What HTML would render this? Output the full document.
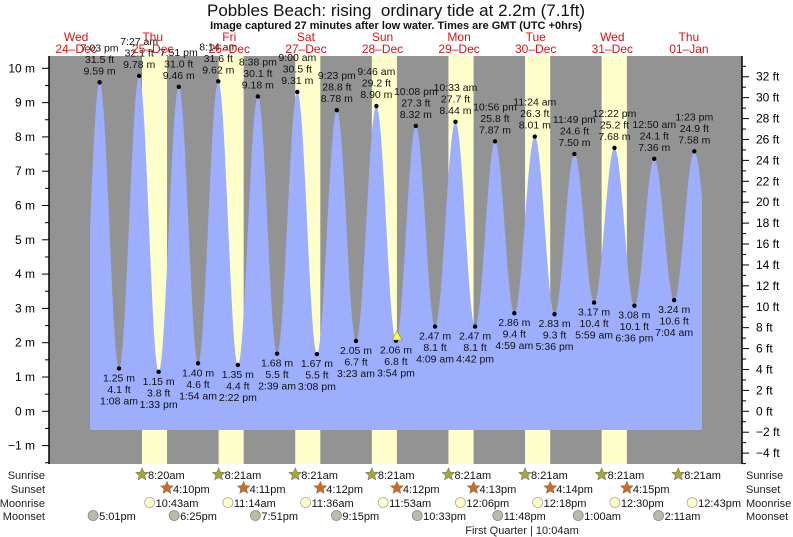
<!DOCTYPE html>
<html><head><meta charset="utf-8"><style>
body{margin:0;background:#fff;}
svg{display:block;font-family:"Liberation Sans",sans-serif;}
</style></head><body>
<svg id="s" width="793" height="537" xmlns="http://www.w3.org/2000/svg"></svg>
<script>
var s=document.getElementById('s'),o='';
var X0=115.4,PD=76.6;
function X(d,h,m){return X0+PD*(d+(h+m/60)/24);}
function Y(v){return 411.3-34.3*v;}
function T(str){var p=str.match(/(\d+):(\d+)\s*(am|pm)/);var h=+p[1]%12;if(p[3]=='pm')h+=12;return [h,+p[2]];}
o+='<rect x="49" y="56" width="693" height="408" fill="#939393"/>';
var bands=[[0,'8:20am','4:10pm'],[1,'8:21am','4:11pm'],[2,'8:21am','4:12pm'],[3,'8:21am','4:12pm'],[4,'8:21am','4:13pm'],[5,'8:21am','4:14pm'],[6,'8:21am','4:15pm']];
bands.forEach(function(b){var a=T(b[1]),c=T(b[2]);var x1=X(b[0],a[0],a[1]),x2=X(b[0],c[0],c[1]);o+='<rect x="'+x1+'" y="56" width="'+(x2-x1)+'" height="408" fill="#ffffcc"/>';});
var ev=[[-1,'7:03pm',9.59,'31.5'],[0,'1:08am',1.25,'4.1'],[0,'7:27am',9.78,'32.1'],[0,'1:33pm',1.15,'3.8'],[0,'7:51pm',9.46,'31.0'],[1,'1:54am',1.40,'4.6'],[1,'8:14am',9.62,'31.6'],[1,'2:22pm',1.35,'4.4'],[1,'8:38pm',9.18,'30.1'],[2,'2:39am',1.68,'5.5'],[2,'9:00am',9.31,'30.5'],[2,'3:08pm',1.67,'5.5'],[2,'9:23pm',8.78,'28.8'],[3,'3:23am',2.05,'6.7'],[3,'9:46am',8.90,'29.2'],[3,'3:54pm',2.06,'6.8'],[3,'10:08pm',8.32,'27.3'],[4,'4:09am',2.47,'8.1'],[4,'10:33am',8.44,'27.7'],[4,'4:42pm',2.47,'8.1'],[4,'10:56pm',7.87,'25.8'],[5,'4:59am',2.86,'9.4'],[5,'11:24am',8.01,'26.3'],[5,'5:36pm',2.83,'9.3'],[5,'11:49pm',7.50,'24.6'],[6,'5:59am',3.17,'10.4'],[6,'12:22pm',7.68,'25.2'],[6,'6:36pm',3.08,'10.1'],[7,'12:50am',7.36,'24.1'],[7,'7:04am',3.24,'10.6'],[7,'1:23pm',7.58,'24.9']];
var pts=ev.map(function(e){var t=T(e[1]);return [X(e[0],t[0],t[1]),e[2]];});
pts.unshift([80.5,1.2]);
pts.push([pts[pts.length-1][0]+(pts[pts.length-1][0]-pts[pts.length-2][0]),3.3]);
function H(x){for(var i=0;i<pts.length-1;i++){if(x>=pts[i][0]&&x<=pts[i+1][0]){var f=(x-pts[i][0])/(pts[i+1][0]-pts[i][0]);return pts[i][1]+(pts[i+1][1]-pts[i][1])*(1-Math.cos(Math.PI*f))/2;}}return 0;}
var d='M90,430';for(var x=90;x<=702;x+=0.5){d+=' L'+x+','+Y(H(x)).toFixed(2);}d+=' L702,430 Z';
o+='<path d="'+d+'" fill="#9daefc"/>';
ev.forEach(function(e,i){var p=pts[i+1],x=p[0],y=Y(p[1]);o+='<circle cx="'+x+'" cy="'+y+'" r="2.2" fill="#000"/>';var tm=e[1].replace(/(am|pm)/,' $1');
var hi=e[2]>5;var ls=hi?[tm,e[3]+' ft',e[2].toFixed(2)+' m']:[e[2].toFixed(2)+' m',e[3]+' ft',tm];
ls.forEach(function(l,k){var yy=hi?y-29+k*11.5-2:y+13+k*11.5;o+='<text x="'+x+'" y="'+yy+'" font-size="10.5" text-anchor="middle" fill="#111">'+l+'</text>';});});
o+='<polygon points="397,331 392,340 402,340" fill="#ffff33" stroke="#886" stroke-width="0.6"/>';
o+='<line x1="49" y1="56" x2="49" y2="464" stroke="#000" stroke-width="1.5"/><line x1="742" y1="56" x2="742" y2="464" stroke="#000" stroke-width="1.5"/>';
for(var m=-1.5;m<=10.4;m+=0.5){var y=Y(m);var maj=Math.abs(m-Math.round(m))<0.01;o+='<line x1="'+(maj?42:45)+'" y1="'+y+'" x2="49" y2="'+y+'" stroke="#000"/>';if(maj){o+='<text x="35" y="'+(y+4)+'" font-size="12" text-anchor="end">'+(m<0?'\u2212'+(-m):m)+' m</text>';}}
for(var f=-5;f<=33;f++){var y=Y(f/3.2808);if(y<56||y>464)continue;var maj=f%2==0;o+='<line x1="742" y1="'+y+'" x2="'+(maj?749:746)+'" y2="'+y+'" stroke="#000"/>';if(maj){o+='<text x="756" y="'+(y+4)+'" font-size="12">'+(f<0?'\u2212'+(-f):f)+' ft</text>';}}
o+='<text x="396" y="16" font-size="17" text-anchor="middle" fill="#111">Pobbles Beach: rising\u00a0 ordinary tide at 2.2m (7.1ft)</text>';
o+='<text x="396" y="29" font-size="11" font-weight="bold" text-anchor="middle" fill="#111">Image captured 27 minutes after low water. Times are GMT (UTC +0hrs)</text>';
var days=[['Wed','24\u2013Dec'],['Thu','25\u2013Dec'],['Fri','26\u2013Dec'],['Sat','27\u2013Dec'],['Sun','28\u2013Dec'],['Mon','29\u2013Dec'],['Tue','30\u2013Dec'],['Wed','31\u2013Dec'],['Thu','01\u2013Jan']];
days.forEach(function(dd,i){var x=X(i-1,12,0)-1;o+='<text x="'+x+'" y="41" font-size="12" fill="#e01010" text-anchor="middle">'+dd[0]+'</text><text x="'+x+'" y="53" font-size="12" fill="#e01010" text-anchor="middle">'+dd[1]+'</text>';});
var rows=['Sunrise','Sunset','Moonrise','Moonset'],ry=[479,493,507,520];
rows.forEach(function(r,i){o+='<text x="45" y="'+ry[i]+'" font-size="11" text-anchor="end" fill="#222">'+r+'</text><text x="746" y="'+ry[i]+'" font-size="11" fill="#222">'+r+'</text>';});
function star(cx,cy,c){var p=[];for(var k=0;k<10;k++){var r=k%2?3:6.5,a=-Math.PI/2+k*Math.PI/5;p.push((cx+r*Math.cos(a)).toFixed(1)+','+(cy+r*Math.sin(a)).toFixed(1));}return '<polygon points="'+p.join(' ')+'" fill="'+c+'" stroke="#776" stroke-width="0.6"/>';}
var sr=['8:20am','8:21am','8:21am','8:21am','8:21am','8:21am','8:21am','8:21am'];
sr.forEach(function(t,i){var a=T(t),x=X(i,a[0],a[1]);o+=star(x,474.5,'#a9a634')+'<text x="'+(x+6)+'" y="479" font-size="11" fill="#111">'+t+'</text>';});
bands.forEach(function(b){var a=T(b[2]),x=X(b[0],a[0],a[1]);o+=star(x,488,'#d2691e')+'<text x="'+(x+6)+'" y="493" font-size="11" fill="#111">'+b[2]+'</text>';});
var mr=[[0,'10:43am'],[1,'11:14am'],[2,'11:36am'],[3,'11:53am'],[4,'12:06pm'],[5,'12:18pm'],[6,'12:30pm'],[7,'12:43pm']];
mr.forEach(function(m){var a=T(m[1]),x=X(m[0],a[0],a[1]);o+='<circle cx="'+x+'" cy="502.5" r="5" fill="#ffffcc" stroke="#aa9" stroke-width="0.8"/><text x="'+(x+6)+'" y="507" font-size="11" fill="#111">'+m[1]+'</text>';});
var ms=[[-1,'5:01pm'],[0,'6:25pm'],[1,'7:51pm'],[2,'9:15pm'],[3,'10:33pm'],[4,'11:48pm'],[6,'1:00am'],[7,'2:11am']];
ms.forEach(function(m){var a=T(m[1]),x=X(m[0],a[0],a[1]);o+='<circle cx="'+x+'" cy="515.5" r="5" fill="#bbbbaa" stroke="#888" stroke-width="0.8"/><text x="'+(x+6)+'" y="520" font-size="11" fill="#111">'+m[1]+'</text>';});
o+='<text x="522" y="534" font-size="11" text-anchor="middle" fill="#222">First Quarter | 10:04am</text>';
s.innerHTML=o;
</script>
</body></html>
